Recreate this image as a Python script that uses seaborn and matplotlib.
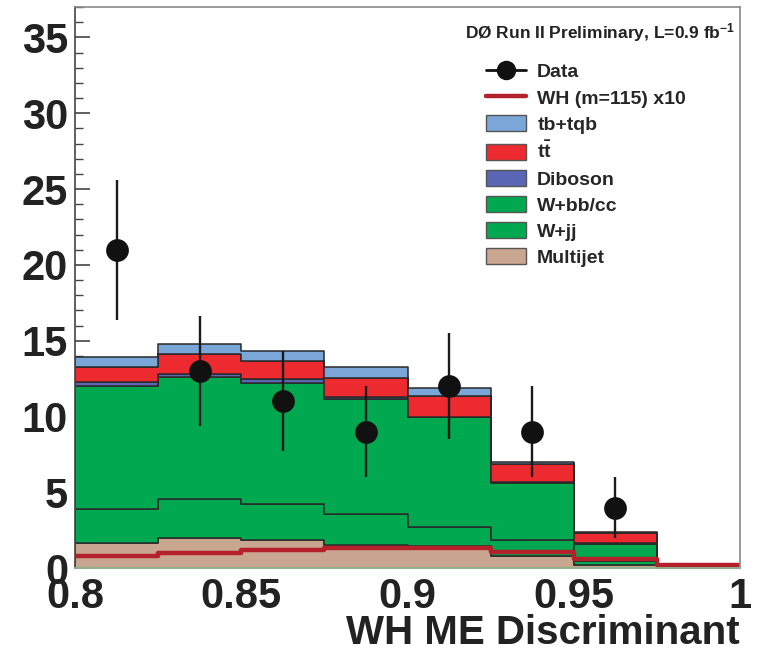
import numpy as np
import pandas as pd
import matplotlib
matplotlib.use("Agg")
import matplotlib.pyplot as plt
import seaborn as sns
from matplotlib.lines import Line2D
from matplotlib.patches import Patch
from matplotlib.ticker import MultipleLocator
from matplotlib import font_manager

# ---------------- data ----------------
bin_edges = [0.8, 0.825, 0.85, 0.875, 0.9, 0.925, 0.95, 0.975, 1.0]
bin_centers = [0.8125, 0.8375, 0.8625, 0.8875, 0.9125, 0.9375, 0.9625, 0.9875]

multijet = [1.65, 1.98, 1.85, 1.54, 1.50, 0.80, 0.20, 0.0]
w_jj     = [2.24, 2.57, 2.39, 2.02, 1.24, 1.07, 0.25, 0.0]
w_bbcc   = [8.13, 8.08, 8.00, 7.58, 7.21, 3.75, 1.17, 0.0]
diboson  = [0.28, 0.17, 0.24, 0.17, 0.05, 0.05, 0.03, 0.0]
ttbar    = [0.95, 1.32, 1.21, 1.21, 1.36, 1.19, 0.70, 0.0]
tb_tqb   = [0.65, 0.66, 0.65, 0.73, 0.51, 0.17, 0.06, 0.0]
wh_x10   = [0.82, 1.03, 1.20, 1.36, 1.36, 1.10, 0.59, 0.20]

data_x      = [0.8125, 0.8375, 0.8625, 0.8875, 0.9125, 0.9375, 0.9625]
data_counts = [21, 13, 11, 9, 12, 9, 4]
data_errors = [4.6, 3.6, 3.3, 3.0, 3.5, 3.0, 2.0]

x_ticks = [0.8, 0.85, 0.9, 0.95, 1.0]
x_tick_labels = ["0.8", "0.85", "0.9", "0.95", "1"]
y_ticks = [0, 5, 10, 15, 20, 25, 30, 35]

processes = ["tb+tqb", "tt", "Diboson", "W+bb/cc", "W+jj", "Multijet"]
process_values = {
    "tb+tqb": tb_tqb, "tt": ttbar, "Diboson": diboson,
    "W+bb/cc": w_bbcc, "W+jj": w_jj, "Multijet": multijet,
}
colors = {
    "tb+tqb": "#7aa6d8", "tt": "#ec2a30", "Diboson": "#5a66b6",
    "W+bb/cc": "#00a84f", "W+jj": "#00a84f", "Multijet": "#c9a690",
}
legend_labels = ["tb+tqb", r"$\mathbf{t\bar{t}}$", "Diboson", "W+bb/cc", "W+jj", "Multijet"]

rows = []
for p in processes:
    for xc, v in zip(bin_centers, process_values[p]):
        rows.append({"x": xc, "w": v, "process": p})
df = pd.DataFrame(rows)
df_wh = pd.DataFrame({"x": bin_centers, "w": wh_x10})
df_data = pd.DataFrame({"x": data_x, "n": data_counts})

# ---------------- style ----------------
sns.set_theme(style="white")
plt.rcParams["font.family"] = ["Liberation Sans", "DejaVu Sans"]
plt.rcParams["mathtext.fontset"] = "custom"
plt.rcParams["mathtext.rm"] = "Liberation Sans:bold"
plt.rcParams["mathtext.bf"] = "Liberation Sans:bold"
plt.rcParams["mathtext.it"] = "Liberation Sans:bold"

installed = {f.name for f in font_manager.fontManager.ttflist}
narrow = "Liberation Sans Narrow" if "Liberation Sans Narrow" in installed else "Liberation Sans"
title_size = 15.5 if narrow == "Liberation Sans Narrow" else 12.5

fig = plt.figure(figsize=(7.63, 6.66), dpi=100)
ax = fig.add_axes([75 / 763, 1 - 568.3 / 666, 665 / 763, 561.3 / 666])

# stacked histogram: first hue level ends up on top of the stack
sns.histplot(data=df, x="x", weights="w", hue="process",
             hue_order=processes, palette=colors,
             bins=bin_edges, multiple="stack", element="step",
             alpha=1, edgecolor="#2a2a2a", linewidth=1.1,
             legend=False, ax=ax)

# signal line
sns.histplot(data=df_wh, x="x", weights="w", bins=bin_edges,
             element="step", fill=False, color="#b5212a",
             linewidth=3.2, legend=False, ax=ax)

# data
ax.errorbar(data_x, data_counts, yerr=data_errors, fmt="none",
            ecolor="#1a1a1a", elinewidth=1.7, capsize=0, zorder=5)
sns.scatterplot(data=df_data, x="x", y="n", color="#111111", s=230,
                edgecolor="#111111", zorder=6, ax=ax, legend=False)

ax.set_xlim(0.8, 1.0)
ax.set_ylim(0, 37)
ax.set_xlabel("")
ax.set_ylabel("")
ax.set_axisbelow(True)

ax.set_xticks(x_ticks)
ax.set_xticklabels(x_tick_labels)
ax.set_yticks(y_ticks)
ax.yaxis.set_minor_locator(MultipleLocator(1))
ax.tick_params(axis="y", which="major", direction="in", length=11, width=1.2,
               color="#444444", labelsize=30, pad=5, left=True)
ax.tick_params(axis="y", which="minor", direction="in", length=6, width=1.0,
               color="#444444", left=True)
ax.tick_params(axis="x", which="major", direction="in", length=0,
               labelsize=30, pad=6, bottom=True)
for lab in ax.get_xticklabels() + ax.get_yticklabels():
    lab.set_fontweight("bold")
    lab.set_color("#222222")

for side in ["top", "right"]:
    ax.spines[side].set_color("#8a8a8a")
    ax.spines[side].set_linewidth(1.2)
ax.spines["left"].set_color("#444444")
ax.spines["left"].set_linewidth(1.2)
ax.spines["bottom"].set_color("#9cc79c")
ax.spines["bottom"].set_linewidth(1.2)

# titles
fig.text(735 / 763, 1 - 33 / 666, r"DØ Run II Preliminary, L=0.9 fb$^{\mathbf{-1}}$",
         ha="right", va="center", fontsize=title_size, fontweight="bold",
         color="#222222", family=[narrow, "DejaVu Sans"])
fig.text(740 / 763, 1 - 633 / 666, "WH ME Discriminant",
         ha="right", va="center", fontsize=29, fontweight="bold", color="#222222")

# legend
handles = [
    Line2D([], [], color="#111111", marker="o", markersize=13, linewidth=2),
    Line2D([], [], color="#b5212a", linewidth=3.2),
]
for p in processes:
    handles.append(Patch(facecolor=colors[p], edgecolor="#555555", linewidth=1.0))
labels = ["Data", "WH (m=115) x10"] + legend_labels
leg = ax.legend(handles, labels, loc="upper left",
                bbox_to_anchor=(476 / 763, 1 - 53 / 666),
                bbox_transform=fig.transFigure, frameon=False,
                prop={"weight": "bold", "size": 14},
                handlelength=2.05, handleheight=0.9, labelspacing=0.38,
                handletextpad=0.6, borderpad=0)

fig.savefig("out.png", dpi=100)
